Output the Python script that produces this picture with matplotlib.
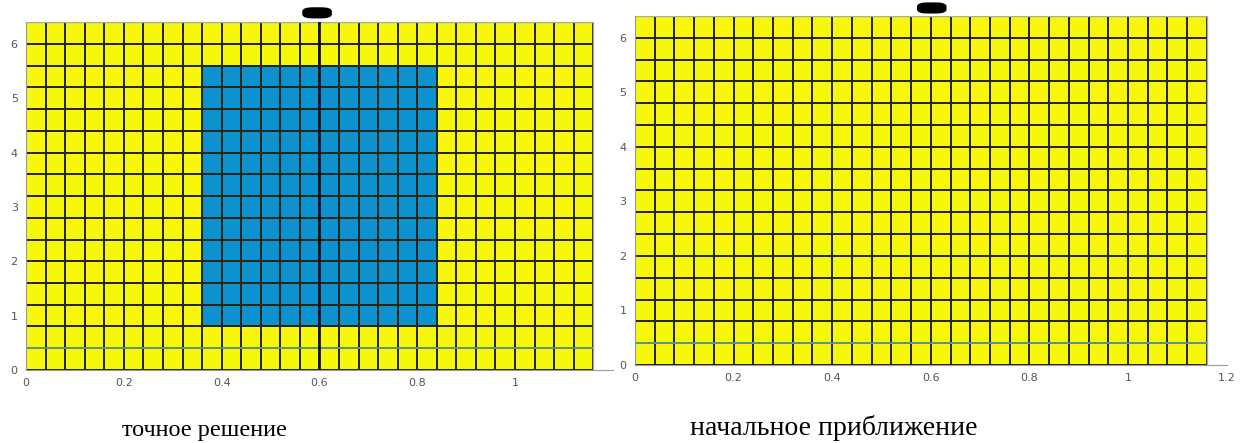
import numpy as np
import matplotlib.pyplot as plt
from matplotlib.colors import ListedColormap
from matplotlib.patches import FancyBboxPatch

# размеры сетки (шаг по x и по y) и число ячеек
dx = 0.04
dy = 0.4
nx = 29
ny = 16

# прямоугольник с другим значением на точном решении
blok_x = [0.36, 0.84]
blok_y = [0.8, 5.6]

x_ticks = [0, 0.2, 0.4, 0.6, 0.8, 1]
x_ticks2 = [0, 0.2, 0.4, 0.6, 0.8, 1, 1.2]
y_ticks = [0, 1, 2, 3, 4, 5, 6]
podpisi = ["точное решение", "начальное приближение"]

xe = np.arange(nx + 1) * dx
ye = np.arange(ny + 1) * dy
xc = 0.5 * (xe[:-1] + xe[1:])
yc = 0.5 * (ye[:-1] + ye[1:])
XC, YC = np.meshgrid(xc, yc)

tochnoe = np.ones((ny, nx))
tochnoe[(XC > blok_x[0]) & (XC < blok_x[1]) & (YC > blok_y[0]) & (YC < blok_y[1])] = 0
nachalnoe = np.ones((ny, nx))

cmap = ListedColormap(["#0b92cf", "#f7f70c"])

fig = plt.figure(figsize=(12.52, 4.43), dpi=100)
ax1 = fig.add_axes([0.0208, 0.1648, 0.4687, 0.7855])
ax2 = fig.add_axes([0.5072, 0.1761, 0.4725, 0.7878])

for ax, pole, xt in [(ax1, tochnoe, x_ticks), (ax2, nachalnoe, x_ticks2)]:
    ax.pcolormesh(xe, ye, pole, cmap=cmap, vmin=0, vmax=1,
                  edgecolors="#262614", linewidth=1.1)
    ax.set_xlim(0, 1.2)
    ax.set_ylim(0, 6.4)
    ax.set_xticks(xt)
    ax.set_xticklabels([str(t) if t not in (0, 1) else str(int(t)) for t in xt])
    ax.set_yticks(y_ticks)
    ax.tick_params(labelsize=8, colors="#555555", length=0, pad=6)
    for s in ["top", "right"]:
        ax.spines[s].set_visible(False)
    for s in ["left", "bottom"]:
        ax.spines[s].set_color("#999999")
    # рамка вокруг области данных
    ax.plot([0, xe[-1], xe[-1]], [ye[-1], ye[-1], 0], color="#aaaaaa", lw=1)
    ax.axhline(0.4, xmax=xe[-1] / 1.2, color="#6fb8a8", lw=1.1)

ax1.axvline(0.6, ymax=1.0, color="#111111", lw=2)

fig.text(0.163, 0.015, podpisi[0], family="Liberation Serif", fontsize=17.5, ha="center")
fig.text(0.666, 0.018, podpisi[1], family="Liberation Serif", fontsize=20, ha="center")

# чёрные метки сверху
fig.patches.append(FancyBboxPatch((0.2440, 0.962), 0.0185, 0.018, boxstyle="round,pad=0.002,rounding_size=0.008",
                                  transform=fig.transFigure, color="black"))
fig.patches.append(FancyBboxPatch((0.7350, 0.973), 0.0185, 0.018, boxstyle="round,pad=0.002,rounding_size=0.008",
                                  transform=fig.transFigure, color="black"))

fig.savefig("out.png", dpi=100)
